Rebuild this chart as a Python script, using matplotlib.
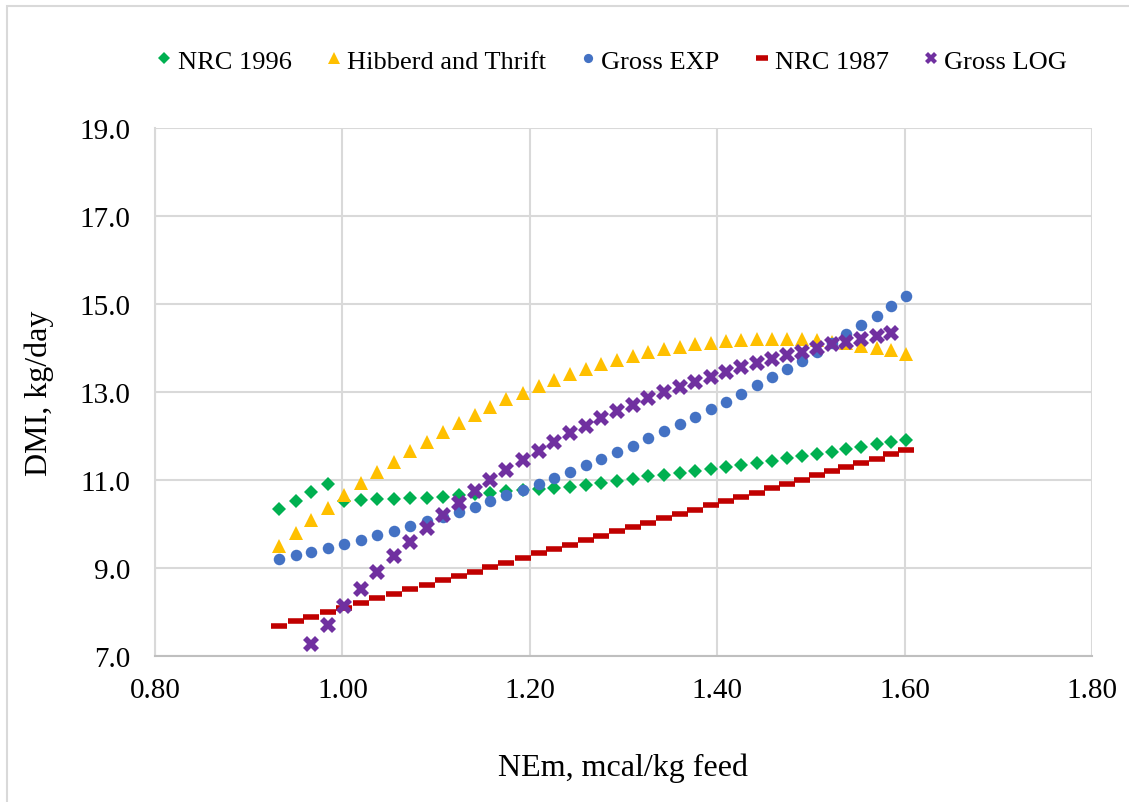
#!/usr/bin/env python3
# -*- coding: utf-8 -*-

import numpy as np
import matplotlib
matplotlib.use('Agg')
import matplotlib.pyplot as plt
from matplotlib.patches import Rectangle

plt.rcParams['font.family'] = ['Liberation Serif', 'DejaVu Serif']

# NEm, mcal/kg feed (41 diets)
nem = [0.932, 0.950, 0.967, 0.985, 1.002, 1.020, 1.037, 1.055, 1.072, 1.090,
       1.107, 1.124, 1.141, 1.158, 1.175, 1.193, 1.210, 1.226, 1.243, 1.260,
       1.276, 1.293, 1.310, 1.326, 1.343, 1.360, 1.376, 1.393, 1.409, 1.425,
       1.442, 1.458, 1.474, 1.490, 1.506, 1.523, 1.538, 1.554, 1.571, 1.586,
       1.602]

# DMI, kg/day
nrc_1996 = [10.33, 10.53, 10.72, 10.91, 10.53, 10.55, 10.56, 10.57, 10.58, 10.60,
            10.62, 10.65, 10.68, 10.71, 10.74, 10.77, 10.79, 10.82, 10.85, 10.89,
            10.94, 10.98, 11.03, 11.08, 11.11, 11.16, 11.21, 11.25, 11.30, 11.35,
            11.39, 11.44, 11.49, 11.55, 11.59, 11.64, 11.71, 11.76, 11.81, 11.86,
            11.92]

hibberd_thrift = [9.49, 9.79, 10.09, 10.37, 10.66, 10.93, 11.18, 11.42, 11.66, 11.87,
                  12.08, 12.29, 12.48, 12.67, 12.83, 12.98, 13.14, 13.27, 13.41, 13.52,
                  13.63, 13.73, 13.82, 13.90, 13.97, 14.03, 14.08, 14.12, 14.16, 14.19,
                  14.21, 14.21, 14.21, 14.20, 14.18, 14.14, 14.11, 14.05, 14.00, 13.95,
                  13.87]

gross_exp = [9.20, 9.29, 9.37, 9.46, 9.55, 9.64, 9.74, 9.84, 9.95, 10.06,
             10.17, 10.28, 10.39, 10.53, 10.65, 10.77, 10.90, 11.05, 11.19, 11.34,
             11.48, 11.63, 11.78, 11.95, 12.11, 12.27, 12.44, 12.61, 12.78, 12.96,
             13.15, 13.33, 13.52, 13.71, 13.90, 14.11, 14.32, 14.52, 14.73, 14.96,
             15.19]

nrc_1987 = [7.68, 7.79, 7.89, 7.99, 8.10, 8.21, 8.31, 8.41, 8.52, 8.61,
            8.72, 8.82, 8.92, 9.02, 9.12, 9.23, 9.33, 9.43, 9.53, 9.64,
            9.73, 9.83, 9.93, 10.02, 10.13, 10.23, 10.32, 10.43, 10.52, 10.61,
            10.71, 10.81, 10.91, 11.01, 11.11, 11.20, 11.29, 11.39, 11.48, 11.58,
            11.68]

gross_log = [np.nan, np.nan, 7.27, 7.71, 8.14, 8.53, 8.92, 9.27, 9.60, 9.90,
             10.21, 10.48, 10.76, 11.00, 11.23, 11.46, 11.67, 11.87, 12.06, 12.23,
             12.40, 12.56, 12.71, 12.86, 12.99, 13.12, 13.23, 13.35, 13.46, 13.56,
             13.66, 13.75, 13.83, 13.92, 13.99, 14.08, 14.14, 14.21, 14.27, 14.33,
             np.nan]

series = [
    ('NRC 1996', nrc_1996, 'D', '#00B050', 7.5),
    ('Hibberd and Thrift', hibberd_thrift, '^', '#FFC000', 10),
    ('Gross EXP', gross_exp, 'o', '#4472C4', 8.3),
    ('NRC 1987', nrc_1987, '_', '#C00000', 11.5),
    ('Gross LOG', gross_log, 'X', '#7030A0', 11.5),
]

fig = plt.figure(figsize=(11.29, 8.03), dpi=100)
ax = fig.add_axes([0.1373, 0.1818, 0.9672 - 0.1373, 0.8394 - 0.1818])

# light chart-area border
fig.patches.append(Rectangle((7 / 1129, -0.05), 1.2, 1 - 7 / 803 + 0.05,
                             transform=fig.transFigure, fill=False,
                             edgecolor='#D9D9D9', linewidth=1.5))

handles = []
for label, ys, mk, col, ms in series:
    if mk == '_':
        h, = ax.plot(nem, ys, linestyle='none', marker=mk, color=col,
                     markersize=ms, markeredgewidth=4, label=label, zorder=3)
    else:
        h, = ax.plot(nem, ys, linestyle='none', marker=mk, color=col,
                     markersize=ms, markeredgewidth=0, label=label, zorder=3)
    handles.append(h)

ax.set_xlim(0.80, 1.80)
ax.set_ylim(7.0, 19.0)
ax.set_xticks(np.arange(0.80, 1.81, 0.20))
ax.set_yticks(np.arange(7.0, 19.1, 2.0))
ax.xaxis.set_major_formatter(matplotlib.ticker.FormatStrFormatter('%.2f'))
ax.yaxis.set_major_formatter(matplotlib.ticker.FormatStrFormatter('%.1f'))
ax.grid(True, color='#D9D9D9', linewidth=1.5, zorder=0)
ax.set_axisbelow(True)
ax.tick_params(length=0, labelsize=21)
ax.tick_params(axis='x', pad=15)
ax.tick_params(axis='y', pad=18)
for side in ['top', 'right']:
    ax.spines[side].set_visible(False)
ax.spines['bottom'].set_color('#BFBFBF')
ax.spines['left'].set_color('#D9D9D9')
ax.spines['bottom'].set_linewidth(1.5)
ax.spines['left'].set_linewidth(1.5)

ax.set_xlabel('NEm, mcal/kg feed', fontsize=23, labelpad=36)
ax.set_ylabel('DMI, kg/day', fontsize=23, labelpad=18)

leg = fig.legend(handles=handles, loc='center', bbox_to_anchor=(0.542, 0.923),
                 ncol=5, frameon=False, fontsize=19, handlelength=0.6,
                 handletextpad=0.2, columnspacing=1.3, markerscale=0.8)

plt.savefig('out.png', dpi=100)
